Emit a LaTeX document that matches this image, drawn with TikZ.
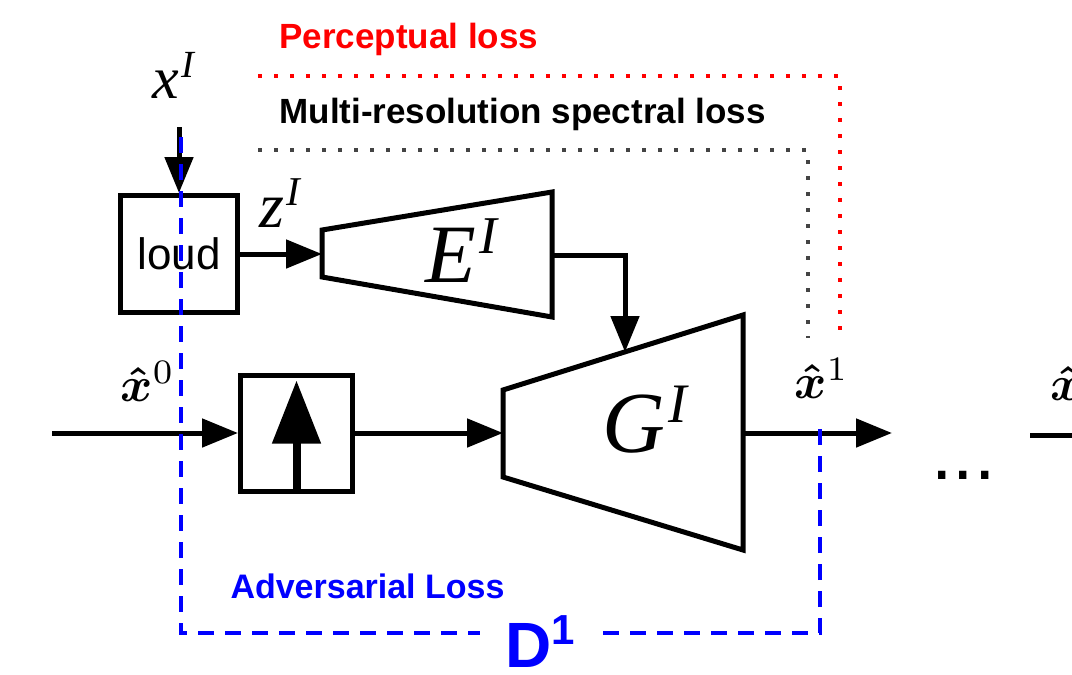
\documentclass[tikz,border=0pt]{standalone}
\usepackage{fontspec}
\setmainfont{Liberation Sans}
\newfontfamily\timesfont{Liberation Serif}
\usetikzlibrary{arrows.meta,positioning,calc}
\definecolor{advblue}{RGB}{0,0,255}
\definecolor{lossred}{RGB}{255,0,0}
\definecolor{lossgray}{RGB}{68,68,68}
\newcommand{\netlab}[3]{\fontsize{#3}{#3}\selectfont\timesfont\itshape #1\kern0.04em\raisebox{0.34em}{\scalebox{0.64}{#2}}}
\newcommand{\xhat}[1]{\scalebox{4.9}{{\boldmath$\hat{x}$}$^{#1}$}}

\begin{document}
\begin{tikzpicture}[x=1pt, y=-1pt, line width=5pt,
        arr/.style={-{Triangle[length=36pt,width=28pt]}},
        box/.style={rectangle, draw, minimum width=117pt, minimum height=117pt, inner sep=0pt},
        loss/.style={line width=4pt, dash pattern=on 4pt off 12pt},
        adv/.style={draw=advblue, line width=3.5pt, dash pattern=on 16pt off 11pt},
        lbl/.style={anchor=base west, inner sep=0pt}]
        \useasboundingbox (0,0) rectangle (1072,675);

        % loss paths
        \draw[loss, draw=lossred] (258,76) -- (840,76) -- (840,330);
        \draw[loss, draw=lossgray] (258,150) -- (808,150) -- (808,338);
        \node[lbl, text=lossred] (perc) at (277,48) {\fontsize{35}{35}\selectfont\bfseries Perceptual loss};
        \node[lbl] (mrsl) at (277,123) {\fontsize{35}{35}\selectfont\bfseries Multi-resolution spectral loss};

        % blocks
        \node[box] (loud) at (179,254) {\fontsize{44}{44}\selectfont loud};
        \node[box, minimum width=112pt, minimum height=116pt] (up) at (296.5,433) {};
        \draw (322,230) -- (552,192) -- (552,317) -- (322,277) -- cycle;
        \draw (503,390) -- (743,315) -- (743,550) -- (503,477) -- cycle;
        \node[lbl] (enc) at (423,282) {\netlab{E}{I}{83pt}};
        \node[lbl] (gen) at (600,452) {\netlab{G}{I}{87pt}};
        \coordinate (enc-in) at (322,254);
        \coordinate (enc-out) at (552,255);
        \coordinate (gen-in) at (503,433);
        \coordinate (gen-top) at (625,352);
        \coordinate (gen-out) at (743,433);

        % labels
        \node[lbl] (xl) at (150,98) {\netlab{x}{I}{60pt}};
        \node[lbl] (zl) at (257,227) {\netlab{z}{I}{64pt}};
        \node[lbl] (xh0) at (118,401) {\xhat{0}};
        \node[lbl] (xh1) at (792,398) {\xhat{1}};
        \node[lbl] (xh2) at (1048,400) {\xhat{2}};
        \node[lbl] (dots) at (929,479) {\fontsize{77}{77}\selectfont ...};

        % connectors
        \coordinate (x-in) at (179,127);
        \coordinate (x0-in) at (52,433);
        \coordinate (x1-out) at (892,433);
        \coordinate (x1-next) at (1030,435);
        \coordinate (x2-in) at (1080,435);
        \draw[arr] (x-in) -- (loud.north);
        \draw[arr] (loud.east) -- (enc-in);
        \draw[arr] (enc-out) -| (gen-top);
        \draw[arr] (x0-in) -- (up.west);
        \draw[arr] (up.east) -- (gen-in);
        \draw[arr] (gen-out) -- (x1-out);
        \draw (x1-next) -- (x2-in);
        \draw[-{Triangle[length=63pt,width=47pt]}, line width=8pt] (up.south) -- ++(0,-113);

        % discriminator
        \draw[adv] (181,137) -- (181,633) -- (820,633) -- (820,420);
        \node[lbl, text=advblue] (advl) at (228,598) {\fontsize{34}{34}\selectfont\bfseries Adversarial Loss};
        \node[fill=white, inner xsep=25pt, inner ysep=0pt, text=advblue] (disc) at (540,641.5)
            {\fontsize{64}{64}\selectfont\bfseries D\raisebox{0.36em}{\fontsize{42}{42}\selectfont 1}};
    \end{tikzpicture}
\end{document}
